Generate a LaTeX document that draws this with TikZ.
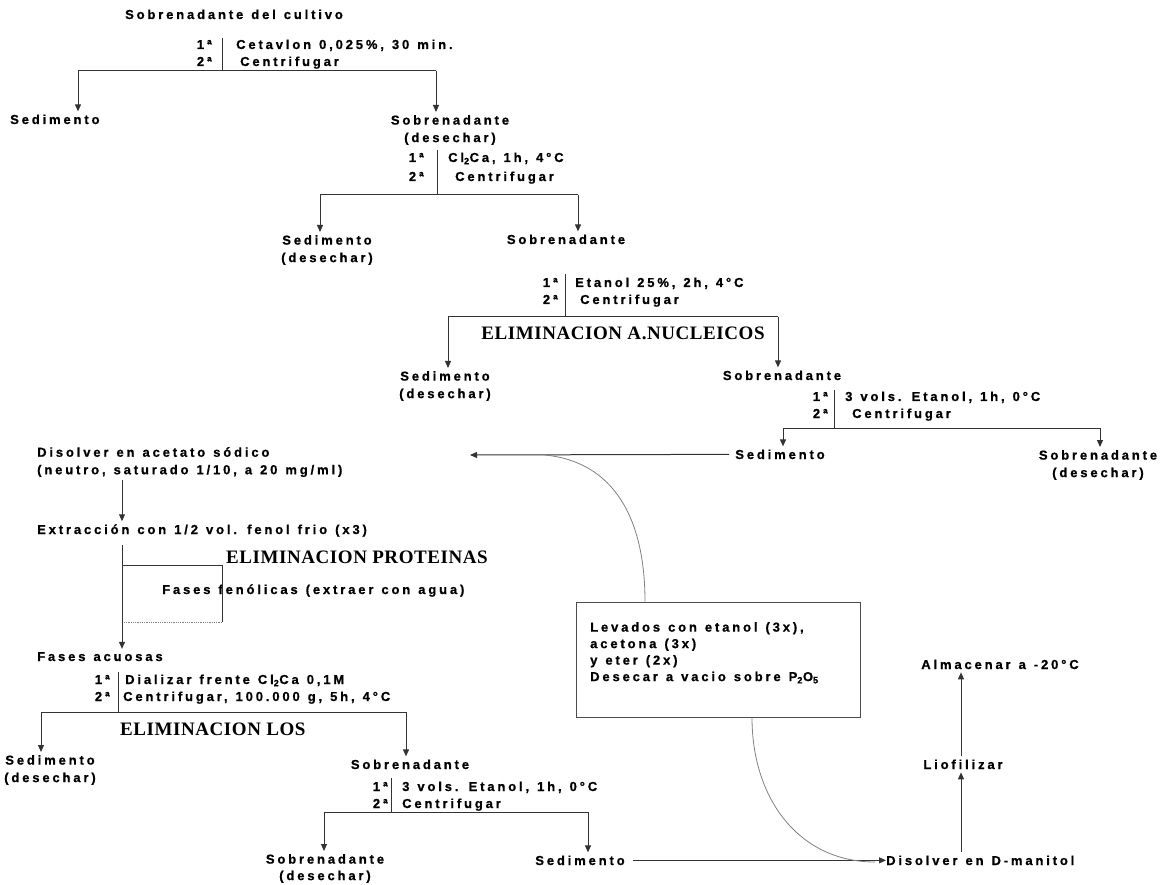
\documentclass[tikz,border=0pt]{standalone}
\usepackage{fontspec}
\setmainfont{Liberation Sans}
\newfontfamily\tw[LetterSpace=22,FakeBold=0.8]{Liberation Sans}
\newfontfamily\hdf[LetterSpace=3]{Liberation Serif}
\newcommand\twsA{\tw\bfseries\fontsize{13}{17.5}\selectfont\spaceskip=8pt plus 1pt\relax}
\newcommand\twsB{\tw\bfseries\fontsize{13}{16.5}\selectfont\spaceskip=8pt plus 1pt\relax}
\usetikzlibrary{arrows.meta}
\begin{document}
\begin{tikzpicture}[x=1pt,y=-1pt,
  t/.style={font=\twsA, inner xsep=0pt, inner ysep=3pt, text=black},
  hd/.style={font=\hdf\bfseries\fontsize{19}{21}\selectfont, inner sep=0pt},
  ln/.style={draw=black!80, line width=1pt},
  arr/.style={ln, -{Triangle[length=7pt,width=6pt]}},
  cv/.style={draw=black!50, line width=0.8pt},
  boxst/.style={draw=black!70, line width=0.9pt, minimum width=284pt, minimum height=115pt, inner sep=0pt}]
\useasboundingbox (0,0) rectangle (1160,885);

% ---- level 0
\node[t, anchor=base] (top) at (234,19) {Sobrenadante del cultivo};
\node[t, anchor=base east] (s1a) at (212,49) {1ª};
\node[t, anchor=base east] (s1b) at (212,66) {2ª};
\node[t, anchor=base west] (s1c) at (236,49) {Cetavlon 0,025\%, 30 min.};
\node[t, anchor=base west] (s1d) at (240,66) {Centrifugar};
\coordinate (b1t) at (222,38); \coordinate (b1b) at (222,71);
\draw[ln] (b1t) -- (b1b);
\node[t, anchor=base west] (sed1) at (10,124) {Sedimento};
\node[t, anchor=north, align=center] (sob1) at (450,112) {Sobrenadante\\(desechar)};
\coordinate (h1l) at (78,71); \coordinate (h1r) at (436,71);
\draw[ln] (h1l) -- (h1r);
\draw[arr] (h1l) -- (h1l |- sed1.north);
\draw[arr] (h1r) -- (h1r |- sob1.north);

% ---- level 2
\node[t, anchor=base east] (s2a) at (424,162) {1ª};
\node[t, anchor=base east] (s2b) at (424,181) {2ª};
\node[t, anchor=base west] (s2c) at (448,162) {Cl\textsubscript{2}Ca, 1h, 4°C};
\node[t, anchor=base west] (s2d) at (455,181) {Centrifugar};
\coordinate (b2t) at (437,150); \coordinate (b2b) at (437,195);
\draw[ln] (b2t) -- (b2b);
\node[t, anchor=north, align=center] (sed2) at (327,232) {Sedimento\\(desechar)};
\node[t, anchor=base] (sob2) at (566,244) {Sobrenadante};
\coordinate (h2l) at (320,195); \coordinate (h2r) at (578,195);
\draw[ln] (h2l) -- (h2r);
\draw[arr] (h2l) -- (h2l |- sed2.north);
\draw[arr] (h2r) -- (h2r |- sob2.north);

% ---- level 3
\node[t, anchor=base east] (s3a) at (558,287) {1ª};
\node[t, anchor=base east] (s3b) at (558,304) {2ª};
\node[t, anchor=base west] (s3c) at (575,287) {Etanol 25\%, 2h, 4°C};
\node[t, anchor=base west] (s3d) at (580,304) {Centrifugar};
\coordinate (b3t) at (565,274); \coordinate (b3b) at (565,317);
\draw[ln] (b3t) -- (b3b);
\node[hd, anchor=base] (hd1) at (623,340) {ELIMINACION A.NUCLEICOS};
\node[t, anchor=north, align=center] (sed3) at (445,368) {Sedimento\\(desechar)};
\node[t, anchor=base] (sob3) at (782,380) {Sobrenadante};
\coordinate (h3l) at (448,317); \coordinate (h3r) at (778,317);
\draw[ln] (h3l) -- (h3r);
\draw[arr] (h3l) -- (h3l |- sed3.north);
\draw[arr] (h3r) -- (h3r |- sob3.north);

% ---- level 4
\node[t, anchor=base east] (s4a) at (828,401) {1ª};
\node[t, anchor=base east] (s4b) at (828,418) {2ª};
\node[t, anchor=base west] (s4c) at (845,401) {3 vols. Etanol, 1h, 0°C};
\node[t, anchor=base west] (s4d) at (852,418) {Centrifugar};
\coordinate (b4t) at (834,390); \coordinate (b4b) at (834,428);
\draw[ln] (b4t) -- (b4b);
\node[t, anchor=base] (sed4) at (780,459) {Sedimento};
\node[t, anchor=north, align=center] (sob4) at (1098,447) {Sobrenadante\\(desechar)};
\coordinate (h4l) at (783,428); \coordinate (h4r) at (1100,428);
\draw[ln] (h4l) -- (h4r);
\draw[arr] (h4l) -- (h4l |- sed4.north);
\draw[arr] (h4r) -- (h4r |- sob4.north);

% ---- back to the left
\coordinate (tipA) at (470,455);
\draw[arr] (sed4.west) ++(-6,0) coordinate (sedW) (sedW) -- (tipA);
\node[t, anchor=north west, align=left] (dis) at (37,444) {Disolver en acetato sódico\\(neutro, saturado 1/10, a 20 mg/ml)};
\node[t, anchor=base west] (ext) at (37,534) {Extracción con 1/2 vol. fenol frio (x3)};
\coordinate (cxa) at (122,0);
\draw[arr] (dis.south -| cxa) -- (ext.north -| cxa);

% protein removal bracket
\coordinate (pA) at (122,545);
\coordinate (pB) at (122,565);
\coordinate (pC) at (222,565);
\coordinate (pD) at (222,622);
\coordinate (pE) at (122,622);
\node[hd, anchor=base west] (hd2) at (226,563) {ELIMINACION PROTEINAS};
\node[t, anchor=base west] (fen) at (162,594) {Fases fenólicas (extraer con agua)};
\draw[ln] (pB) -- (pC) -- (pD);
\draw[draw=black!50, line width=0.8pt, densely dotted] (pD) -- (pE);
\node[t, anchor=base west] (acu) at (37,661) {Fases acuosas};
\draw[arr] (pA) -- (acu.north -| pA);

% ---- level 5
\node[t, anchor=base east] (s5a) at (110,684) {1ª};
\node[t, anchor=base east] (s5b) at (110,701) {2ª};
\node[t, anchor=base west] (s5c) at (125,684) {Dializar frente Cl\textsubscript{2}Ca 0,1M};
\node[t, anchor=base west] (s5d) at (123,701) {Centrifugar, 100.000 g, 5h, 4°C};
\coordinate (b5t) at (118,672); \coordinate (b5b) at (118,712);
\draw[ln] (b5t) -- (b5b);
\node[hd, anchor=base west] (hd3) at (120,735) {ELIMINACION LOS};
\node[t, anchor=north, align=center] (sed5) at (50,752) {Sedimento\\(desechar)};
\node[t, anchor=base] (sob5) at (410,769) {Sobrenadante};
\coordinate (h5l) at (41,712); \coordinate (h5r) at (406,712);
\draw[ln] (h5l) -- (h5r);
\draw[arr] (h5l) -- (h5l |- sed5.north);
\draw[arr] (h5r) -- (h5r |- sob5.north);

% ---- level 6
\node[t, anchor=base east] (s6a) at (388,791) {1ª};
\node[t, anchor=base east] (s6b) at (388,808) {2ª};
\node[t, anchor=base west] (s6c) at (402,791) {3 vols. Etanol, 1h, 0°C};
\node[t, anchor=base west] (s6d) at (402,808) {Centrifugar};
\coordinate (b6t) at (391,778); \coordinate (b6b) at (391,812);
\draw[ln] (b6t) -- (b6b);
\node[t, anchor=north, align=center, font=\twsB] (sob6) at (325,851) {Sobrenadante\\(desechar)};
\node[t, anchor=base] (sed6) at (580,865) {Sedimento};
\coordinate (h6l) at (324,812); \coordinate (h6r) at (588,812);
\draw[ln] (h6l) -- (h6r);
\draw[arr] (h6l) -- (h6l |- sob6.north);
\draw[arr] (h6r) -- (h6r |- sed6.north);

% ---- final steps
\node[t, anchor=base west] (dman) at (886,865) {Disolver en D-manitol};
\draw[arr] (sed6.east) ++(8,0) coordinate (sedE) (sedE) -- (dman.west);
\node[t, anchor=base] (lio) at (963,769) {Liofilizar};
\node[t, anchor=base] (alm) at (1000,669) {Almacenar a -20°C};
\coordinate (cx3) at (961,0);
\draw[arr] (dman.north -| cx3) -- (lio.south -| cx3);
\draw[arr] (lio.north -| cx3) -- (alm.south -| cx3);

% ---- washing box
\node[boxst] (box) at (718,659.5) {};
\node[t, anchor=north west, align=left, font=\twsB] (boxt) at (590,619) {Levados con etanol (3x),\\acetona (3x)\\y eter (2x)\\Desecar a vacio sobre P\textsubscript{2}O\textsubscript{5}};
\coordinate (cx1) at (645,0);
\coordinate (cj1) at (545,455);
\draw[cv] (box.north -| cx1) .. controls (645,520) and (615,462) .. (cj1);
\coordinate (cx2) at (752,0);
\coordinate (cj2) at (875,862);
\draw[cv] (box.south -| cx2) .. controls (752,800) and (800,862) .. (cj2);
\end{tikzpicture}
\end{document}
